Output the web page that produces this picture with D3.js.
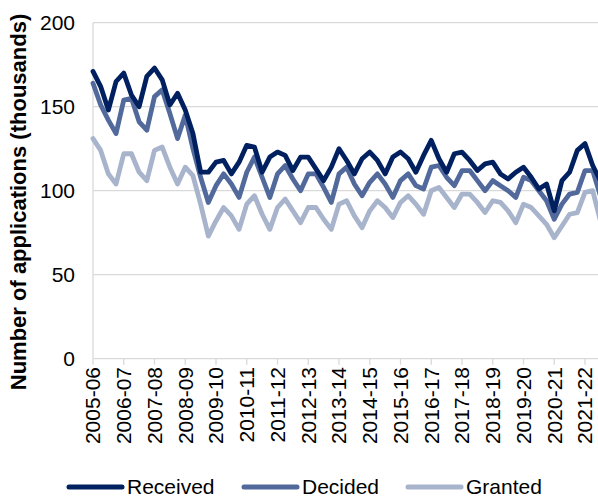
<!DOCTYPE html>
<html>
<head>
<meta charset="utf-8">
<script src="https://cdn.jsdelivr.net/npm/d3@7"></script>
<style>
  html, body { margin: 0; padding: 0; background: #fff; }
  svg { display: block; font-family: Arial, "Liberation Sans", sans-serif; }
</style>
</head>
<body>
<svg id="chart" width="598" height="497"></svg>
<script>
// Financial years (label at first quarter of each year)
const yearLabels = ["2005-06","2006-07","2007-08","2008-09","2009-10","2010-11","2011-12","2012-13",
  "2013-14","2014-15","2015-16","2016-17","2017-18","2018-19","2019-20","2020-21","2021-22"];
const quartersPerYear = 4;

// Quarterly values (thousands), from 2005-06 Q1
const received = [171,162,148,165,170,157,150,168,173,166,151,158,148,134,111,111,117,118,110,117,
  127,126,111,120,123,121,112,120,120,113,106,114,125,118,110,119,123,118,110,120,
  123,119,111,121,130,119,111,122,123,118,112,116,117,110,107,111,114,108,101,104,
  88,106,111,124,128,115,106];
const decided = [164,151,142,134,154,155,141,136,156,160,146,131,145,125,108,93,103,110,104,96,
  111,120,108,96,110,115,107,100,110,110,102,93,110,114,104,97,105,110,104,96,
  106,110,103,101,114,115,108,103,112,112,106,100,106,103,100,96,108,106,100,94,
  83,92,98,99,112,112,97];
const granted = [131,124,110,104,122,122,111,106,124,126,114,104,114,109,92,73,82,90,85,77,
  92,97,86,77,90,95,88,81,90,90,83,77,92,94,85,78,88,94,90,84,
  93,97,92,86,100,102,96,90,98,98,93,87,94,93,88,81,92,90,85,80,
  72,79,86,87,99,100,82];

const seriesNames = ["Received","Decided","Granted"];
const seriesColors = ["#00205f","#52699b","#a8b3cc"];
const yTicks = [0,50,100,150,200];

const svg = d3.select("#chart");
const fontSize = 21;

const x0 = 93, xStep = 7.6875;
const nPts = received.length;
const x = d3.scaleLinear().domain([0, nPts - 1]).range([x0, x0 + xStep * (nPts - 1)]);
const y = d3.scaleLinear().domain([0, 200]).range([358.7, 22.7]);
const plotRight = 598;

// gridlines
svg.append("g").selectAll("line").data(yTicks.filter(d => d > 0)).join("line")
  .attr("x1", x0).attr("x2", plotRight)
  .attr("y1", d => y(d)).attr("y2", d => y(d))
  .attr("stroke", "#d9d9d9").attr("stroke-width", 1.3);

// y axis line
svg.append("line").attr("x1", x0).attr("x2", x0).attr("y1", y(200)).attr("y2", y(0))
  .attr("stroke", "#d9d9d9").attr("stroke-width", 1.3);
// x axis line
svg.append("line").attr("x1", x0).attr("x2", plotRight).attr("y1", y(0)).attr("y2", y(0))
  .attr("stroke", "#d9d9d9").attr("stroke-width", 1.3);

// y tick labels
svg.append("g").selectAll("text").data(yTicks).join("text")
  .attr("x", 75).attr("y", d => y(d)).attr("dy", "0.35em")
  .attr("text-anchor", "end").attr("font-size", fontSize).attr("fill", "#000")
  .text(d => d);

// x ticks and labels
const tickIdx = yearLabels.map((d, i) => i * quartersPerYear);
svg.append("g").selectAll("line").data(tickIdx).join("line")
  .attr("x1", d => x(d)).attr("x2", d => x(d))
  .attr("y1", y(0)).attr("y2", y(0) + 6)
  .attr("stroke", "#d9d9d9").attr("stroke-width", 1.3);
svg.append("g").selectAll("text").data(yearLabels).join("text")
  .attr("transform", (d, i) => `translate(${x(i * quartersPerYear)},367) rotate(-90)`)
  .attr("text-anchor", "end").attr("dy", "0.35em")
  .attr("font-size", fontSize).attr("fill", "#000")
  .text(d => d);

// y axis title
svg.append("text")
  .attr("transform", "translate(18,202) rotate(-90)")
  .attr("text-anchor", "middle").attr("dy", "0.35em")
  .attr("font-size", 22).attr("font-weight", "bold").attr("fill", "#000")
  .text("Number of applications (thousands)");

// lines (draw granted first so received is on top)
const lineGen = d3.line().x((d, i) => x(i)).y(d => y(d));
const data = [received, decided, granted];
[2,1,0].forEach(k => {
  svg.append("path").datum(data[k])
    .attr("d", lineGen)
    .attr("fill", "none")
    .attr("stroke", seriesColors[k])
    .attr("stroke-width", 4.8)
    .attr("stroke-linejoin", "round")
    .attr("stroke-linecap", "round");
});

// legend
const legendX = [69, 244, 408];
const lg = svg.append("g");
seriesNames.forEach((name, k) => {
  lg.append("line").attr("x1", legendX[k]).attr("x2", legendX[k] + 53)
    .attr("y1", 487).attr("y2", 487)
    .attr("stroke", seriesColors[k]).attr("stroke-width", 5).attr("stroke-linecap", "round");
  lg.append("text").attr("x", legendX[k] + 58).attr("y", 487).attr("dy", "0.35em")
    .attr("font-size", fontSize).attr("fill", "#000").text(name);
});
</script>
</body>
</html>
